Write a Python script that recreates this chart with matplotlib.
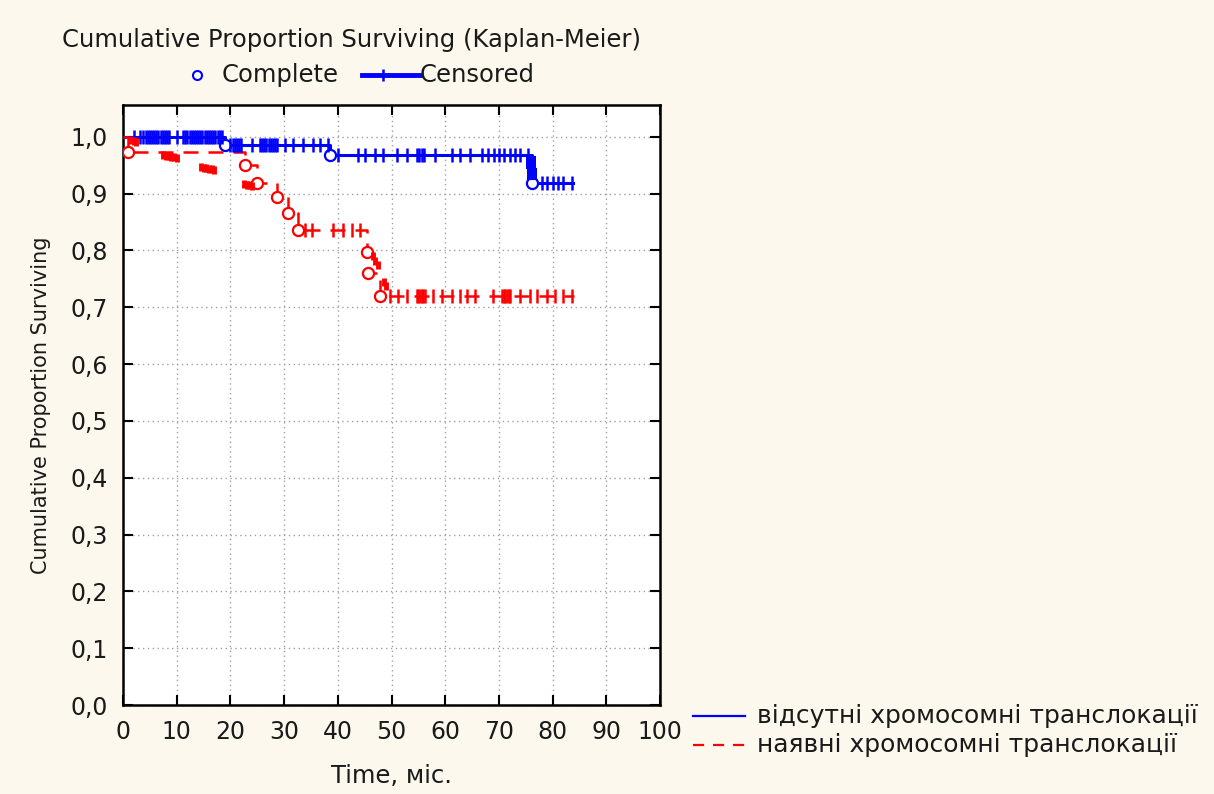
import matplotlib
matplotlib.use("Agg")
import matplotlib.pyplot as plt
from matplotlib.lines import Line2D
import numpy as np

# ---------------- data ----------------
# blue: "відсутні хромосомні транслокації"
blue_event_t = [0, 19.0, 38.5, 76.2]
blue_surv = [1.0, 0.986, 0.968, 0.919]
blue_end_t = 83.8
blue_cens_t = [2.0, 3.2, 3.8, 4.2, 4.6, 5.0, 5.4, 5.8, 6.2, 6.6, 7.0, 7.4, 7.8, 8.2, 8.6, 10.0,
               11.2, 11.6, 12.0, 12.4, 12.8, 13.2, 13.6, 14.0, 14.4, 14.8, 15.2, 15.6, 16.0,
               16.4, 16.8, 17.2, 17.6, 18.0, 18.4,
               20.0, 20.4, 20.8, 21.2, 21.6, 22.0, 24.0, 25.5, 25.9, 26.3, 26.7, 27.1, 27.5,
               27.9, 28.3, 28.6, 30.2, 31.7, 33.5, 35.4, 36.7, 38.2,
               40.0, 43.8, 45.0, 47.0, 48.4, 51.0, 52.9, 54.8, 55.2, 55.6, 56.0, 58.1,
               61.3, 62.8, 64.6, 66.9, 68.0, 69.0, 70.0, 71.0, 72.0, 73.0, 74.0, 75.4,
               78.0, 79.0, 80.0, 81.0, 82.0, 83.6]
# marks on the vertical drop near 76 months
blue_extra_t = [76.0, 76.0, 76.0, 76.0, 76.1, 76.1, 76.1, 76.2]
blue_extra_s = [0.962, 0.957, 0.952, 0.947, 0.942, 0.937, 0.932, 0.927]

# red: "наявні хромосомні транслокації"
red_event_t = [0, 1.0, 22.7, 25.0, 28.7, 30.7, 32.6, 45.4, 45.6, 47.8]
red_surv = [1.0, 0.974, 0.951, 0.919, 0.894, 0.866, 0.836, 0.797, 0.760, 0.720]
red_end_t = 84.0
red_cens_t = [33.8, 35.2, 39.1, 41.0, 42.6, 44.1,
              49.7, 51.2, 52.9, 54.7, 55.0, 55.3, 55.6, 55.9, 56.2, 57.7, 59.4, 61.3, 62.8,
              64.1, 65.5, 68.9, 70.6, 70.9, 71.2, 71.5, 71.8, 72.1, 73.9, 75.8, 77.1, 79.0,
              80.4, 81.9, 83.6]
# censored marks drawn apart from the main step line
red_extra_t = [1.5, 2.0, 2.5, 7.5, 8.0, 8.5, 9.0, 9.5, 10.0, 14.5, 15.0, 15.5, 16.0,
               16.5, 17.0, 22.5, 23.0, 23.5, 24.0, 46.6, 47.0, 47.4, 48.6, 49.0]
red_extra_s = [0.995, 0.993, 0.991, 0.968, 0.967, 0.966, 0.965, 0.964, 0.963,
               0.947, 0.946, 0.945, 0.944, 0.943, 0.942, 0.917, 0.916, 0.915, 0.914,
               0.790, 0.782, 0.774, 0.745, 0.738]

x_ticks = [0, 10, 20, 30, 40, 50, 60, 70, 80, 90, 100]
y_ticks = [0.0, 0.1, 0.2, 0.3, 0.4, 0.5, 0.6, 0.7, 0.8, 0.9, 1.0]
y_tick_labels = ["0,0", "0,1", "0,2", "0,3", "0,4", "0,5", "0,6", "0,7", "0,8", "0,9", "1,0"]

title = "Cumulative Proportion Surviving (Kaplan-Meier)"
x_label = "Time, міс."
y_label = "Cumulative Proportion Surviving"
label_blue = "відсутні хромосомні транслокації"
label_red = "наявні хромосомні транслокації"

# ---------------- style ----------------
BG = "#fdf8ed"
BLUE = "#0000ff"
RED = "#ff0000"
TXT = "#1a1a1a"
plt.rcParams["font.family"] = ["DejaVu Sans"]

W, H = 1214, 794
fig = plt.figure(figsize=(W / 100, H / 100), dpi=100, facecolor=BG)
ax = fig.add_axes([123 / W, 1 - 705 / H, (660 - 123) / W, (705 - 105) / H])
ax.set_facecolor("white")
ax.set_xlim(0, 100)
ax.set_ylim(0, 1.056)


def surv_at(ev_t, ev_s, t):
    idx = np.searchsorted(ev_t, t, side="right") - 1
    return np.array(ev_s)[idx]


# blue curve
bt = list(blue_event_t) + [blue_end_t]
bs = list(blue_surv) + [blue_surv[-1]]
ax.step(bt, bs, where="post", color=BLUE, lw=2.2, zorder=4)
ax.plot(blue_event_t[1:], blue_surv[1:], "o", ms=8, mfc="white", mec=BLUE, mew=1.6, zorder=5)
ax.plot(blue_cens_t, surv_at(blue_event_t, blue_surv, blue_cens_t), "|", ms=10,
        mec=BLUE, mew=1.8, zorder=6)
ax.plot(blue_extra_t, blue_extra_s, "_", ms=7, mec=BLUE, mew=3, zorder=6)

# red curve
rt = list(red_event_t) + [red_end_t]
rs = list(red_surv) + [red_surv[-1]]
ax.step(rt, rs, where="post", color=RED, lw=1.8, ls=(0, (6, 4)), zorder=4)
ax.plot(red_event_t[1:], red_surv[1:], "o", ms=8, mfc="white", mec=RED, mew=1.6, zorder=5)
ax.plot(red_cens_t, surv_at(red_event_t, red_surv, red_cens_t), "|", ms=10,
        mec=RED, mew=1.8, zorder=6)
ax.plot(red_extra_t, red_extra_s, "|", ms=6, mec=RED, mew=3.5, zorder=6)

# axes formatting
ax.set_xticks(x_ticks)
ax.set_yticks(y_ticks)
ax.set_yticklabels(y_tick_labels)
ax.grid(True, color="#a0a0a0", ls=(0, (1, 2.5)), lw=1.0)
ax.set_axisbelow(True)
for sp in ax.spines.values():
    sp.set_linewidth(1.8)
    sp.set_color("black")
ax.tick_params(direction="in", length=7, width=1.5, top=True, right=True,
               labelsize=17, labelcolor=TXT, pad=11)
ax.set_xlabel(x_label, fontsize=17.5, color=TXT, labelpad=14)
ax.set_ylabel(y_label, fontsize=15, color=TXT, labelpad=14)

# title and marker legend at top
fig.text(352 / W, 1 - 40 / H, title, ha="center", va="center", fontsize=17.5, color=TXT)
fig.add_artist(Line2D([197 / W], [1 - 75 / H], marker="o", ms=6.5, mfc="white",
                      mec=BLUE, mew=1.5, transform=fig.transFigure))
fig.text(222 / W, 1 - 75 / H, "Complete", ha="left", va="center", fontsize=17.5, color=TXT)
fig.add_artist(Line2D([362 / W, 420 / W], [1 - 75 / H, 1 - 75 / H], color=BLUE, lw=3.5,
                      transform=fig.transFigure))
fig.add_artist(Line2D([383 / W], [1 - 75 / H], marker="|", ms=9, mec=BLUE, mew=1.8,
                      transform=fig.transFigure))
fig.text(420 / W, 1 - 75 / H, "Censored", ha="left", va="center", fontsize=17.5, color=TXT)

# group legend at bottom right
fig.add_artist(Line2D([693 / W, 745 / W], [1 - 716 / H, 1 - 716 / H], color=BLUE, lw=1.6,
                      transform=fig.transFigure))
fig.add_artist(Line2D([693 / W, 745 / W], [1 - 745 / H, 1 - 745 / H], color=RED, lw=1.6,
                      ls=(0, (5, 4)), transform=fig.transFigure))
fig.text(757 / W, 1 - 716 / H, label_blue, ha="left", va="center", fontsize=18, color=TXT)
fig.text(757 / W, 1 - 745 / H, label_red, ha="left", va="center", fontsize=18, color=TXT)

fig.savefig("out.png", dpi=100, facecolor=BG)
